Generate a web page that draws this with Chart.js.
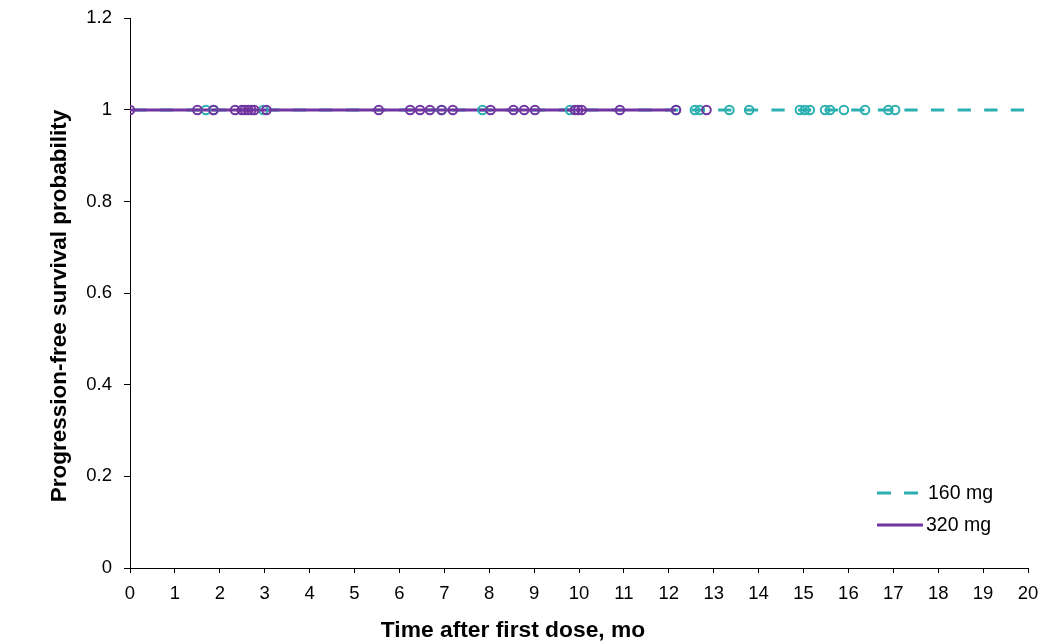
<!DOCTYPE html>
<html>
<head>
<meta charset="utf-8">
<script src="https://cdn.jsdelivr.net/npm/chart.js@4/dist/chart.umd.min.js"></script>
<style>
  html, body { margin: 0; padding: 0; background: #fff; }
  #wrap { width: 1040px; height: 642px; position: relative; }
</style>
</head>
<body>
<div id="wrap"><canvas id="c" width="1040" height="642"></canvas></div>
<script>
// ---- Data ----
const seriesNames = ["160 mg", "320 mg"];
// Line extents (time in months, survival probability)
const line160 = [{x: 0, y: 1}, {x: 20, y: 1}];
const line320 = [{x: 0, y: 1}, {x: 12.16, y: 1}];
// Censor times (months) — all at survival probability 1
const censor160 = [1.69, 1.86, 2.97, 6.94, 7.85, 9.80, 12.16, 12.58, 12.69, 13.35, 13.79,
                   14.92, 15.03, 15.14, 15.48, 15.59, 15.90, 16.37, 16.89, 17.04];
const censor320 = [0, 1.50, 1.86, 2.34, 2.49, 2.56, 2.63, 2.70, 2.77, 3.04, 5.54, 6.24,
                   6.46, 6.68, 6.94, 7.19, 8.03, 8.54, 8.78, 9.02, 9.91, 9.98, 10.06,
                   10.91, 12.16, 12.84];
const censorProb = 1;
const xTicks = [0,1,2,3,4,5,6,7,8,9,10,11,12,13,14,15,16,17,18,19,20];
const yTicks = [0, 0.2, 0.4, 0.6, 0.8, 1, 1.2];
const xTitle = "Time after first dose, mo";
const yTitle = "Progression-free survival probability";

const TEAL = "#2BAFB0";
const PURPLE = "#7035A0";
const FONT = "'Liberation Sans', Arial, sans-serif";

const overlay = {
  id: 'overlay',
  afterDraw(chart) {
    const ctx = chart.ctx;
    ctx.save();
    ctx.fillStyle = '#000';
    ctx.font = "bold 22.8px " + FONT;
    ctx.textAlign = 'center';
    ctx.textBaseline = 'alphabetic';
    ctx.fillText(xTitle, 513, 637);
    ctx.save();
    ctx.translate(66, 306);
    ctx.rotate(-Math.PI / 2);
    ctx.font = "bold 22.5px " + FONT;
    ctx.fillText(yTitle, 0, 0);
    ctx.restore();
    // legend
    ctx.lineWidth = 3;
    ctx.strokeStyle = TEAL;
    ctx.setLineDash([14, 13]);
    ctx.beginPath(); ctx.moveTo(877, 493); ctx.lineTo(919, 493); ctx.stroke();
    ctx.setLineDash([]);
    ctx.strokeStyle = PURPLE;
    ctx.beginPath(); ctx.moveTo(877, 525); ctx.lineTo(923, 525); ctx.stroke();
    ctx.font = "19.5px " + FONT;
    ctx.textAlign = 'left';
    ctx.textBaseline = 'middle';
    ctx.fillText(seriesNames[0], 928, 494);
    ctx.fillText(seriesNames[1], 926, 526);
    ctx.restore();
  }
};

function zeroPad(s) { s.paddingTop = 0; s.paddingBottom = 0; s.paddingLeft = 0; s.paddingRight = 0; }

new Chart(document.getElementById('c'), {
  type: 'scatter',
  data: {
    datasets: [
      { label: seriesNames[0], data: line160, showLine: true, borderColor: TEAL, borderWidth: 3,
        borderDash: [13.3, 13.3], borderDashOffset: -3, pointRadius: 0, order: 4, borderCapStyle: 'butt' },
      { label: seriesNames[1], data: line320, showLine: true, borderColor: PURPLE, borderWidth: 3,
        pointRadius: 0, order: 3 },
      { label: seriesNames[0] + ' censored', data: censor160.map(t => ({x: t, y: censorProb})),
        showLine: false, pointStyle: 'circle', pointRadius: 4.3, pointBorderWidth: 2,
        borderColor: TEAL, backgroundColor: 'rgba(0,0,0,0)', order: 2 },
      { label: seriesNames[1] + ' censored', data: censor320.map(t => ({x: t, y: censorProb})),
        showLine: false, pointStyle: 'circle', pointRadius: 4.3, pointBorderWidth: 2,
        borderColor: PURPLE, backgroundColor: 'rgba(0,0,0,0)', order: 1 }
    ]
  },
  options: {
    responsive: false,
    animation: false,
    layout: { padding: { left: 0, right: 12, top: 18.4, bottom: 0 } },
    plugins: { legend: { display: false }, tooltip: { enabled: false } },
    scales: {
      x: {
        type: 'linear', min: 0, max: 20,
        afterBuildTicks: s => { s.ticks = xTicks.map(v => ({value: v})); },
        afterFit: s => { s.height = 74; zeroPad(s); },
        ticks: { color: '#000', font: { family: FONT, size: 18.5 }, padding: 10, maxRotation: 0,
                 callback: v => String(v) },
        grid: { drawOnChartArea: false, drawTicks: true, tickLength: 5, color: '#000', lineWidth: 1 },
        border: { display: true, color: '#000', width: 1 }
      },
      y: {
        type: 'linear', min: 0, max: 1.2,
        afterBuildTicks: s => { s.ticks = yTicks.map(v => ({value: v})); },
        afterFit: s => { s.width = 130; zeroPad(s); },
        ticks: { color: '#000', font: { family: FONT, size: 18.5 }, padding: 12,
                 callback: v => String(Math.round(v * 10) / 10) },
        grid: { drawOnChartArea: false, drawTicks: true, tickLength: 6, color: '#000', lineWidth: 1 },
        border: { display: true, color: '#000', width: 1 }
      }
    }
  },
  plugins: [overlay]
});
</script>
</body>
</html>
